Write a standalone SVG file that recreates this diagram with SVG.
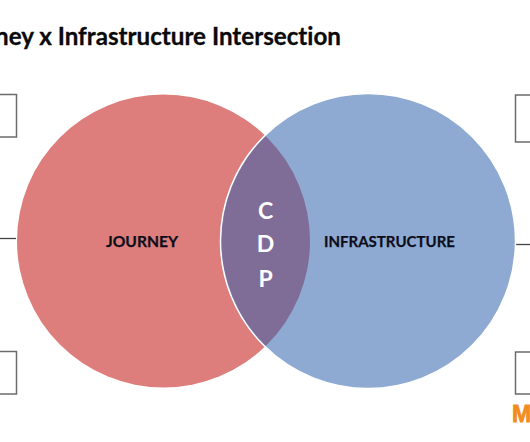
<svg xmlns="http://www.w3.org/2000/svg" width="530" height="442" viewBox="0 0 530 442">
<style>
.box{fill:#fff;stroke:#6b6b6b;stroke-width:1.5}
.conn{stroke:#444;stroke-width:1.3;fill:none}
text{font-variant-ligatures:none}
.lbl{font-family:"Lato","Liberation Sans",sans-serif;font-weight:700;font-size:15.5px;fill:#0d0d1a;stroke:#0d0d1a;stroke-width:.25;text-anchor:middle}
.cdp{font-family:"Lato","Liberation Sans",sans-serif;font-weight:700;font-size:23px;fill:#fff;text-anchor:middle}
</style>
<defs><clipPath id="lens"><circle cx="163.5" cy="241" r="146.5"/></clipPath></defs>
<rect width="530" height="442" fill="#fff"/>
<text id="title" x="-5" y="45" textLength="346" lengthAdjust="spacingAndGlyphs" style="font-family:'Lato','Liberation Sans',sans-serif;font-weight:700;font-size:24px;fill:#0a0a0a;stroke:#0a0a0a;stroke-width:.3">ney x Infrastructure Intersection</text>
<g id="connectors">
<path class="conn" d="M0 238.5H16"/>
<path class="conn" d="M514 244.5H530"/>
</g>
<g id="box-left-top"><rect class="box" x="-5" y="94.5" width="21.5" height="42.5"/></g>
<g id="box-left-bottom"><rect class="box" x="-5" y="351.5" width="21.5" height="42.5"/></g>
<g id="box-right-top"><rect class="box" x="515.5" y="95" width="25" height="47"/></g>
<g id="box-right-bottom"><rect class="box" x="515.5" y="352" width="25" height="42"/></g>
<g id="journey">
<circle cx="163.5" cy="241" r="146.5" fill="#dd7e7c"/>
<text class="lbl" x="142" y="247" textLength="72" lengthAdjust="spacingAndGlyphs">JOURNEY</text>
</g>
<g id="infrastructure">
<circle cx="368" cy="241" r="147.5" fill="#8eaad3" stroke="#fff" stroke-width="1.5"/>
<text class="lbl" x="389.5" y="247" textLength="131" lengthAdjust="spacingAndGlyphs">INFRASTRUCTURE</text>
</g>
<g id="cdp">
<circle cx="368" cy="241" r="146.5" fill="#7f6d98" clip-path="url(#lens)"/>
<text class="cdp" x="265.5" y="219">C</text>
<text class="cdp" x="265.5" y="252">D</text>
<text class="cdp" x="265.5" y="287">P</text>
</g>
<text id="logo" x="512" y="422" style="font-family:'Liberation Sans',sans-serif;font-weight:700;font-size:23px;fill:#f28c1e;stroke:#f28c1e;stroke-width:.8">M</text>
</svg>
